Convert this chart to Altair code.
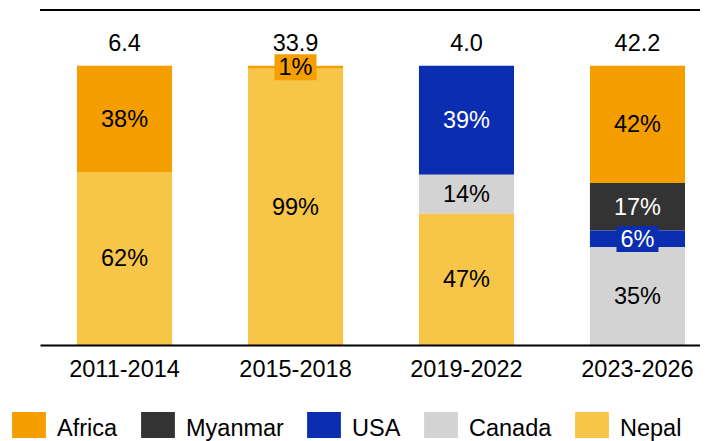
import altair as alt
import pandas as pd

FONT = "Liberation Sans, Arial, sans-serif"

periods = ["2011-2014", "2015-2018", "2019-2022", "2023-2026"]
totals = [6.4, 33.9, 4.0, 42.2]

regions = ["Africa", "Myanmar", "USA", "Canada", "Nepal"]
colors = ["#F59E00", "#333333", "#0B2DB0", "#D3D3D3", "#F7C548"]
text_colors = ["black", "white", "white", "black", "black"]

africa = [0.38, 0.01, 0.00, 0.42]
myanmar = [0.00, 0.00, 0.00, 0.17]
usa = [0.00, 0.00, 0.39, 0.06]
canada = [0.00, 0.00, 0.14, 0.35]
nepal = [0.62, 0.99, 0.47, 0.00]

series = [africa, myanmar, usa, canada, nepal]
rows = []
for ri, (reg, vals) in enumerate(zip(regions, series)):
    for p, v in zip(periods, vals):
        if v > 0:
            rows.append({
                "period": p,
                "region": reg,
                "share": v,
                "ord": len(regions) - 1 - ri,
                "hex": colors[ri],
                "tcolor": text_colors[ri],
            })
df = pd.DataFrame(rows)
tdf = pd.DataFrame({"period": periods, "total": totals})

W, H = 660, 335
yscale = alt.Scale(domain=[0, 1.2], nice=False, zero=True)
xscale = alt.Scale(domain=periods, paddingInner=0.444, paddingOuter=0.152, align=0.7115)
xenc = alt.X(
    "period:N",
    sort=periods,
    scale=xscale,
    axis=alt.Axis(
        title=None, labelAngle=0, ticks=False, domainColor="black", domainWidth=2,
        labelFontSize=23.5, labelFont=FONT, labelColor="black", labelPadding=12,
        zindex=1, grid=False,
    ),
)

box_path = "M-1.615,-1L1.615,-1L1.615,1L-1.615,1Z"
legend_sym = "M-1.3,-1.3L1.3,-1.3L1.3,0.7L-1.3,0.7Z"

base = (
    alt.Chart(df)
    .transform_stack(
        stack="share", groupby=["period"],
        sort=[alt.SortField("ord", order="ascending")], as_=["y0", "y1"],
    )
    .transform_calculate(mid="(datum.y0 + datum.y1) / 2")
)

bars = base.mark_bar().encode(
    x=xenc,
    y=alt.Y("y0:Q", scale=yscale, axis=None),
    y2="y1:Q",
    color=alt.Color(
        "region:N",
        scale=alt.Scale(domain=regions, range=colors),
        legend=alt.Legend(
            title=None, orient="none", legendX=-24, legendY=406, direction="horizontal",
            symbolType=legend_sym, symbolSize=676, symbolStrokeWidth=0, symbolOpacity=1,
            labelFontSize=23.5, labelFont=FONT, labelColor="black", labelOffset=15,
            columnPadding=23, padding=0, gridAlign="none",
        ),
    ),
)

boxes = base.transform_filter("datum.share < 0.1").mark_point(
    shape=box_path, filled=True, size=676, opacity=1, strokeWidth=0
).encode(
    x=xenc,
    y=alt.Y("mid:Q", scale=yscale, axis=None),
    fill=alt.Fill("hex:N", scale=None),
)

pct = base.mark_text(fontSize=23.5, font=FONT, baseline="middle", dy=1).encode(
    x=xenc,
    y=alt.Y("mid:Q", scale=yscale, axis=None),
    text=alt.Text("share:Q", format=".0%"),
    color=alt.Color("tcolor:N", scale=None),
)

tot = alt.Chart(tdf).mark_text(
    fontSize=23.5, font=FONT, baseline="alphabetic", dy=-15, color="black"
).encode(
    x=xenc,
    y=alt.datum(1.0),
    text=alt.Text("total:Q", format=".1f"),
)

top_rule = alt.Chart(pd.DataFrame({"a": [0]})).mark_rule(color="black", strokeWidth=2).encode(
    x=alt.value(0), x2=alt.value(W), y=alt.value(0)
)

chart = (
    alt.layer(bars, boxes, pct, tot, top_rule)
    .properties(
        width=W, height=H,
        autosize=alt.AutoSizeParams(type="none"),
        padding={"left": 32, "top": 2, "right": 0, "bottom": 100},
    )
    .configure_view(stroke=None)
)

chart.save("out.html", embed_options={"renderer": "svg", "actions": False})
